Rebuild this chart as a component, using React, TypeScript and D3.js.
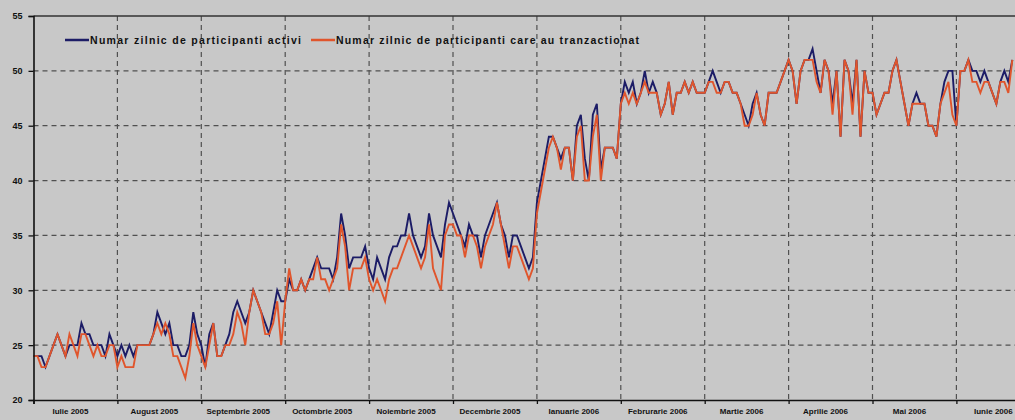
import { useRef, useEffect } from 'react';
import * as d3 from 'd3';

const BG = '#c8c8c8';
const ACTIVE_COLOR = '#1c1c66';
const TRADED_COLOR = '#e0552c';
const GRID_COLOR = '#505050';

const monthLabels = [
  'Iulie 2005', 'August 2005', 'Septembrie 2005', 'Octombrie 2005',
  'Noiembrie 2005', 'Decembrie 2005', 'Ianuarie 2006', 'Februrarie 2006',
  'Martie 2006', 'Aprilie 2006', 'Mai 2006', 'Iunie 2006',
];
const yTicks = [20, 25, 30, 35, 40, 45, 50, 55];

// daily values, one array per month (trading days)
const activeByMonth = [
  [24, 24, 24, 23, 24, 25, 26, 25, 24, 25, 25, 25, 27, 26, 26, 25, 25, 25, 24, 26, 25],
  [24, 25, 24, 25, 24, 25, 25, 25, 25, 26, 28, 27, 26, 27, 25, 25, 24, 24, 25, 28, 26],
  [25, 23, 26, 27, 24, 24, 25, 26, 28, 29, 28, 27, 28, 30, 29, 28, 27, 26, 28, 30, 29],
  [29, 31, 30, 30, 31, 30, 31, 32, 33, 32, 32, 32, 31, 33, 37, 35, 32, 33, 33, 33, 34],
  [32, 31, 33, 32, 31, 33, 34, 34, 35, 35, 37, 35, 34, 33, 34, 37, 35, 34, 33, 36, 38],
  [37, 36, 35, 34, 36, 35, 35, 33, 35, 36, 37, 38, 36, 35, 33, 35, 35, 34, 33, 32, 33],
  [38, 40, 42, 44, 44, 43, 42, 43, 43, 40, 45, 46, 42, 40, 46, 47, 41, 43, 43, 43, 42],
  [47, 49, 48, 49, 47, 48, 50, 48, 49, 48, 46, 47, 49, 46, 48, 48, 49, 48, 49, 48, 48],
  [48, 49, 50, 49, 48, 49, 49, 48, 48, 47, 46, 45, 47, 48, 46, 45, 48, 48, 48, 49, 50],
  [51, 50, 47, 50, 51, 51, 52, 50, 48, 51, 50, 47, 50, 44, 51, 50, 47, 51, 44, 50, 48],
  [48, 46, 47, 48, 48, 50, 51, 49, 47, 45, 47, 48, 47, 47, 45, 45, 44, 47, 49, 50, 50],
  [45, 50, 50, 51, 50, 50, 49, 50, 49, 48, 47, 49, 50, 49, 51],
];

const tradedByMonth = [
  [24, 24, 23, 23, 24, 25, 26, 25, 24, 26, 25, 24, 26, 26, 25, 24, 25, 24, 24, 25, 25],
  [23, 24, 23, 23, 23, 25, 25, 25, 25, 26, 27, 26, 27, 26, 24, 24, 23, 22, 24, 27, 25],
  [24, 23, 25, 27, 24, 24, 25, 25, 26, 28, 27, 25, 28, 30, 29, 28, 26, 26, 27, 29, 25],
  [29, 32, 30, 30, 31, 30, 31, 31, 33, 31, 31, 30, 31, 32, 36, 34, 30, 32, 32, 32, 33],
  [31, 30, 31, 30, 29, 31, 32, 32, 33, 34, 35, 34, 33, 32, 33, 36, 32, 31, 30, 35, 36],
  [36, 35, 35, 33, 35, 35, 34, 32, 34, 35, 36, 38, 36, 34, 32, 34, 34, 33, 32, 31, 32],
  [37, 39, 41, 43, 44, 43, 41, 43, 43, 40, 44, 45, 40, 40, 44, 46, 40, 43, 43, 43, 42],
  [47, 48, 47, 48, 47, 48, 49, 48, 48, 48, 46, 47, 49, 46, 48, 48, 49, 48, 49, 48, 48],
  [48, 49, 49, 48, 48, 49, 49, 48, 48, 47, 45, 45, 46, 48, 46, 45, 48, 48, 48, 49, 50],
  [51, 50, 47, 50, 51, 51, 51, 49, 48, 51, 50, 46, 50, 44, 51, 50, 46, 51, 44, 50, 48],
  [48, 46, 47, 48, 48, 50, 51, 49, 47, 45, 47, 47, 47, 47, 45, 45, 44, 47, 48, 49, 46],
  [45, 50, 50, 51, 49, 49, 48, 49, 49, 48, 47, 49, 49, 48, 51],
];

const DAYS_PER_MONTH = 21;

const toPoints = (byMonth) =>
  byMonth.flatMap((days, m) =>
    days.map((v, d) => ({ t: m + d / DAYS_PER_MONTH, v }))
  );

const W = 1015;
const H = 420;

const ParticipantsChart = () => {
  const svgRef = useRef(null);

  useEffect(() => {
    const svg = d3.select(svgRef.current);
    svg.selectAll('*').remove();

    const left = 33.5;
    const top = 16;
    const bottom = 400;
    const monthW = 83.9;

    const x = d3.scaleLinear().domain([0, 12]).range([left, left + 12 * monthW]);
    const y = d3.scaleLinear().domain([20, 55]).range([bottom, top]);

    svg.append('rect').attr('width', W).attr('height', H).attr('fill', BG);

    // grid
    svg
      .append('g')
      .selectAll('line')
      .data(yTicks.filter((t) => t > 20 && t < 55))
      .join('line')
      .attr('x1', left)
      .attr('x2', W)
      .attr('y1', (d) => y(d))
      .attr('y2', (d) => y(d))
      .attr('stroke', GRID_COLOR)
      .attr('stroke-width', 1.2)
      .attr('stroke-dasharray', '5,4');

    svg
      .append('g')
      .selectAll('line')
      .data(d3.range(1, 12))
      .join('line')
      .attr('x1', (d) => x(d))
      .attr('x2', (d) => x(d))
      .attr('y1', top)
      .attr('y2', bottom)
      .attr('stroke', GRID_COLOR)
      .attr('stroke-width', 1.2)
      .attr('stroke-dasharray', '5,4');

    // top border
    svg
      .append('line')
      .attr('x1', left)
      .attr('x2', W)
      .attr('y1', top)
      .attr('y2', top)
      .attr('stroke', '#333')
      .attr('stroke-width', 1.3);

    // lines
    const line = d3
      .line()
      .x((d) => x(d.t))
      .y((d) => y(d.v));

    svg
      .append('path')
      .datum(toPoints(activeByMonth))
      .attr('d', line)
      .attr('fill', 'none')
      .attr('stroke', ACTIVE_COLOR)
      .attr('stroke-width', 1.9);

    svg
      .append('path')
      .datum(toPoints(tradedByMonth))
      .attr('d', line)
      .attr('fill', 'none')
      .attr('stroke', TRADED_COLOR)
      .attr('stroke-width', 1.9);

    // Y axis
    const yAxis = svg
      .append('g')
      .attr('transform', `translate(${left},0)`)
      .call(d3.axisLeft(y).tickValues(yTicks).tickSize(5).tickPadding(6));
    yAxis.select('.domain').attr('stroke', '#111').attr('stroke-width', 1.6);
    yAxis.selectAll('line').attr('stroke', '#111').attr('stroke-width', 1.3);
    yAxis
      .selectAll('text')
      .attr('fill', '#111')
      .style('font-family', 'Liberation Sans, Arial, sans-serif')
      .style('font-size', '9px')
      .style('font-weight', 'bold');

    // X axis
    const xAxis = svg
      .append('g')
      .attr('transform', `translate(0,${bottom})`)
      .call(
        d3.axisBottom(x).tickValues(d3.range(0, 13)).tickSize(4).tickFormat(() => '')
      );
    xAxis.select('.domain').attr('stroke', '#111').attr('stroke-width', 1.6);
    xAxis.selectAll('line').attr('stroke', '#111').attr('stroke-width', 1.3);

    svg
      .append('g')
      .selectAll('text')
      .data(monthLabels)
      .join('text')
      .attr('x', (d, i) => x(i + 0.5) - 5)
      .attr('y', 414)
      .attr('text-anchor', 'middle')
      .attr('fill', '#111')
      .style('font-family', 'Liberation Sans, Arial, sans-serif')
      .style('font-size', '8px')
      .style('font-weight', 'bold')
      .text((d) => d);

    // legend
    const legend = [
      { label: 'Numar zilnic de participanti activi', color: ACTIVE_COLOR, x0: 65, tw: 211 },
      { label: 'Numar zilnic de participanti care au tranzactionat', color: TRADED_COLOR, x0: 311, tw: 303 },
    ];
    const lg = svg.append('g');
    legend.forEach((l) => {
      lg.append('line')
        .attr('x1', l.x0)
        .attr('x2', l.x0 + 24)
        .attr('y1', 40)
        .attr('y2', 40)
        .attr('stroke', l.color)
        .attr('stroke-width', 2.5);
      lg.append('text')
        .attr('x', l.x0 + 25)
        .attr('y', 44)
        .attr('textLength', l.tw)
        .attr('lengthAdjust', 'spacing')
        .attr('fill', '#111')
        .style('font-family', 'Liberation Sans, Arial, sans-serif')
        .style('font-size', '10.5px')
        .style('font-weight', 'bold')
        .text(l.label);
    });
  }, []);

  return (
    <svg
      ref={svgRef}
      width={W}
      height={H}
      style={{ position: 'absolute', left: 0, top: 0, display: 'block' }}
    />
  );
};

export default function App() {
  return <ParticipantsChart />;
}
